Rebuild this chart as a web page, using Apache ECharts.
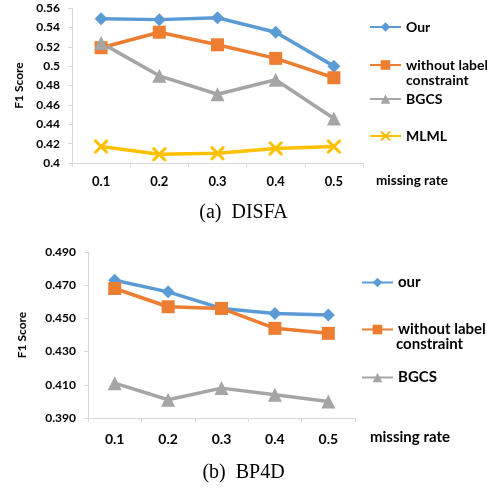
<!DOCTYPE html>
<html>
<head>
<meta charset="utf-8">
<script src="https://cdn.jsdelivr.net/npm/echarts@6/dist/echarts.min.js"></script>
<style>
  html, body { margin: 0; padding: 0; background: #fff; }
  #chart { width: 487px; height: 488px; }
</style>
</head>
<body>
<div id="chart"></div>
<script>
// missing rate categories
const xCats = ["0.1", "0.2", "0.3", "0.4", "0.5"];

// (a) DISFA
const disfaOur = [0.549, 0.548, 0.550, 0.535, 0.500];
const disfaNoLabel = [0.519, 0.535, 0.522, 0.508, 0.488];
const disfaBGCS = [0.524, 0.490, 0.471, 0.486, 0.446];
const disfaMLML = [0.417, 0.409, 0.410, 0.415, 0.417];
const disfaTicks = [0.4, 0.42, 0.44, 0.46, 0.48, 0.5, 0.52, 0.54, 0.56];

// (b) BP4D
const bp4dOur = [0.473, 0.466, 0.456, 0.453, 0.452];
const bp4dNoLabel = [0.468, 0.457, 0.456, 0.444, 0.441];
const bp4dBGCS = [0.411, 0.401, 0.408, 0.404, 0.400];
const bp4dTicks = [0.39, 0.41, 0.43, 0.45, 0.47, 0.49];

const FONT = "Lato";
const AXIS_GRAY = "#d9d9d9";
const crossPath =
  "path://M0,0 L1.5,0 L5,3.5 L8.5,0 L10,0 L10,1.5 L6.5,5 L10,8.5 L10,10 L8.5,10 L5,6.5 L1.5,10 L0,10 L0,8.5 L3.5,5 L0,1.5 Z";

function lineSeries(name, data, color, symbol, size, idx) {
  return {
    name: name,
    type: "line",
    xAxisIndex: idx,
    yAxisIndex: idx,
    data: data,
    symbol: symbol,
    symbolSize: size,
    lineStyle: { width: 3.5, color: color },
    itemStyle: { color: color },
    emphasis: { disabled: true }
  };
}

function legendAt(name, left, top, fontSize, label) {
  return {
    data: [name],
    left: left,
    top: top,
    padding: 0,
    itemWidth: 31,
    itemHeight: 12,
    selectedMode: false,
    formatter: function () { return label || name; },
    textStyle: { fontFamily: FONT, fontWeight: "bold", fontSize: fontSize, color: "#000" }
  };
}

function xAxisDef(idx, gap, pad, size, labelSize, labelMargin) {
  return {
    type: "category",
    gridIndex: idx,
    data: xCats,
    boundaryGap: true,
    name: "missing rate",
    nameLocation: "end",
    nameGap: gap,
    nameTextStyle: {
      fontFamily: FONT, fontWeight: "bold", fontSize: size, color: "#000",
      align: "left", verticalAlign: "top", padding: [pad, 0, 0, 0]
    },
    axisLine: { lineStyle: { color: AXIS_GRAY, width: 1 } },
    axisTick: { show: true, length: 4, alignWithLabel: false, lineStyle: { color: AXIS_GRAY } },
    axisLabel: { margin: labelMargin, fontFamily: FONT, fontWeight: "bold", fontSize: labelSize, color: "#000" },
    splitLine: { show: false }
  };
}

function yAxisDef(idx, ticks, digits, gap) {
  return {
    type: "value",
    gridIndex: idx,
    min: ticks[0],
    max: ticks[ticks.length - 1],
    name: "F1 Score",
    nameLocation: "middle",
    nameGap: gap,
    nameRotate: 90,
    nameTextStyle: { fontFamily: FONT, fontWeight: "bold", fontSize: 12, color: "#000" },
    axisLine: { show: true, lineStyle: { color: AXIS_GRAY, width: 1 } },
    axisTick: { show: true, length: 4, customValues: ticks, lineStyle: { color: AXIS_GRAY } },
    axisLabel: {
      margin: 12,
      customValues: ticks,
      fontFamily: FONT, fontWeight: "bold", fontSize: 12, color: "#000",
      formatter: function (v) {
        return digits === 3 ? v.toFixed(3) : String(+v.toFixed(2));
      }
    },
    splitLine: { show: false }
  };
}

const chart = echarts.init(document.getElementById("chart"));
chart.setOption({
  backgroundColor: "#fff",
  animation: false,
  grid: [
    { left: 72, right: 124, top: 8, height: 155 },
    { left: 88, right: 132, top: 252, height: 166 }
  ],
  xAxis: [xAxisDef(0, 13, 11, 13.5, 13, 12), xAxisDef(1, 15, 12, 15, 14, 14)],
  yAxis: [yAxisDef(0, disfaTicks, 2, 44), yAxisDef(1, bp4dTicks, 3, 60)],
  legend: [
    legendAt("Our", 369, 20, 14),
    legendAt("without label constraint", 369, 58, 14, "without label"),
    legendAt("BGCS", 369, 92, 14),
    legendAt("MLML", 369, 129, 14),
    legendAt("our", 361, 275, 15),
    legendAt("without label constraint ", 361, 322, 15, "without label"),
    legendAt("BGCS ", 361, 370, 15, "BGCS")
  ],
  graphic: [
    { type: "text", left: 406, top: 73, style: { text: "constraint", font: "bold 14px Lato", fill: "#000" } },
    { type: "text", left: 396, top: 337, style: { text: "constraint", font: "bold 15px Lato", fill: "#000" } },
    { type: "text", left: "center", top: 203, style: { text: "(a)  DISFA", font: "20px 'Liberation Serif'", fill: "#000" } },
    { type: "text", left: "center", top: 463, style: { text: "(b)  BP4D", font: "20px 'Liberation Serif'", fill: "#000" } }
  ],
  series: [
    lineSeries("Our", disfaOur, "#5B9BD5", "diamond", 13, 0),
    lineSeries("without label constraint", disfaNoLabel, "#ED7D31", "rect", 13, 0),
    lineSeries("BGCS", disfaBGCS, "#A5A5A5", "triangle", 14, 0),
    lineSeries("MLML", disfaMLML, "#FFC000", crossPath, 14, 0),
    lineSeries("our", bp4dOur, "#5B9BD5", "diamond", 13, 1),
    lineSeries("without label constraint ", bp4dNoLabel, "#ED7D31", "rect", 13, 1),
    lineSeries("BGCS ", bp4dBGCS, "#A5A5A5", "triangle", 14, 1)
  ]
});
</script>
</body>
</html>
